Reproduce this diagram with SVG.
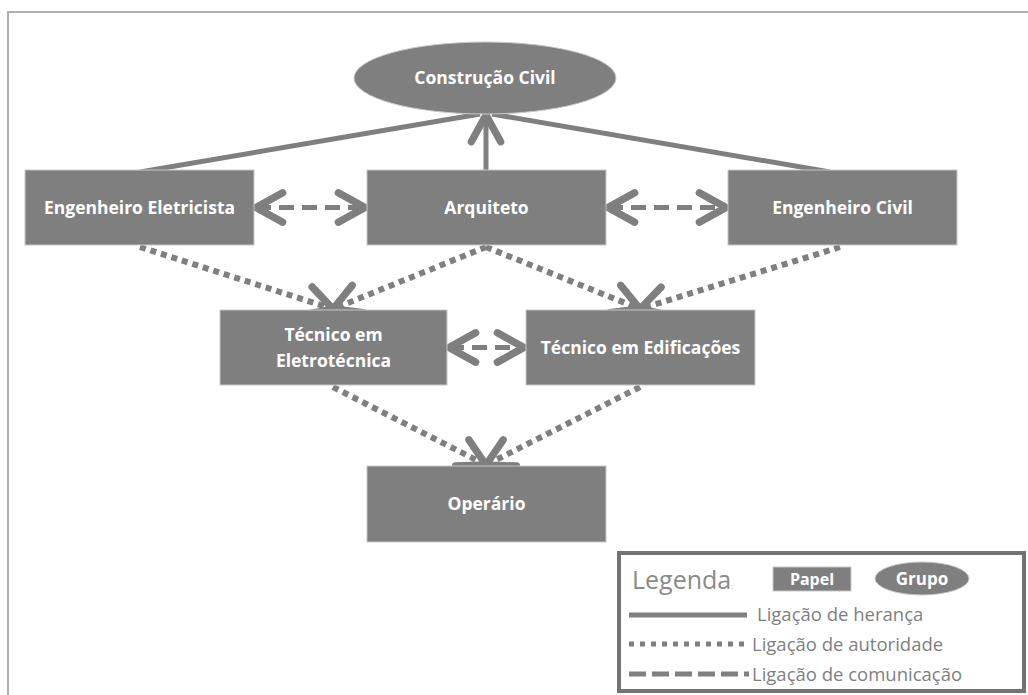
<svg xmlns="http://www.w3.org/2000/svg" width="1028" height="695" viewBox="0 0 1028 695">
  <style>
    .node { fill: #7f7f7f; stroke: #c8c8c8; stroke-width: 1; }
    .label { font-family: "Open Sans", "Liberation Sans", sans-serif; font-weight: bold; font-size: 17.5px; fill: #ffffff; text-anchor: middle; }
    .conn { stroke: #7f7f7f; stroke-width: 5; fill: none; }
    .dotted { stroke-dasharray: 6 5; stroke-width: 6; }
    .dashed { stroke-dasharray: 15 8; }
    .legtext { font-family: "Open Sans", "Liberation Sans", sans-serif; font-size: 18.5px; fill: #7f7f7f; }
  </style>
  <defs>
    <marker id="chev" markerUnits="userSpaceOnUse" markerWidth="40" markerHeight="40" refX="0" refY="0" orient="auto-start-reverse" overflow="visible" viewBox="-25 -15 30 30">
      <path d="M-20,-11 L0,0 L-20,11" fill="none" stroke="#7f7f7f" stroke-width="5.5" stroke-linecap="round" stroke-linejoin="round"/>
    </marker>
  </defs>
  <rect x="0" y="0" width="1028" height="695" fill="#ffffff"/>
  <polyline points="1028,12 8,12 8,695" fill="none" stroke="#b0b0b0" stroke-width="2"/>

  <g id="connectors">
    <line class="conn" x1="140" y1="172" x2="480" y2="114"/>
    <line class="conn" x1="830" y1="172" x2="492" y2="114"/>
    <line class="conn" x1="486" y1="172" x2="486" y2="115" marker-end="url(#chev)"/>
    <line class="conn dashed" x1="256" y1="207.5" x2="365" y2="207.5" marker-start="url(#chev)" marker-end="url(#chev)"/>
    <line class="conn dashed" x1="608" y1="207.5" x2="726" y2="207.5" marker-start="url(#chev)" marker-end="url(#chev)"/>
    <line class="conn dashed" x1="449" y1="347.5" x2="524" y2="347.5" marker-start="url(#chev)" marker-end="url(#chev)"/>
    <line class="conn dotted" x1="140" y1="247" x2="333" y2="309" marker-end="url(#chev)"/>
    <line class="conn dotted" x1="486" y1="247" x2="333" y2="309" marker-end="url(#chev)"/>
    <line class="conn dotted" x1="486" y1="247" x2="640" y2="309" marker-end="url(#chev)"/>
    <line class="conn dotted" x1="840" y1="247" x2="640" y2="309" marker-end="url(#chev)"/>
    <line class="conn dotted" x1="333" y1="387" x2="486" y2="465" marker-end="url(#chev)"/>
    <line class="conn dotted" x1="640" y1="387" x2="486" y2="465" marker-end="url(#chev)"/>
  </g>

  <g id="construcao-civil">
    <ellipse class="node" cx="485" cy="78" rx="131" ry="36"/>
    <text class="label" x="485" y="84">Construção Civil</text>
  </g>
  <g id="engenheiro-eletricista">
    <rect class="node" x="25" y="170" width="229" height="75"/>
    <text class="label" x="139.5" y="214">Engenheiro Eletricista</text>
  </g>
  <g id="arquiteto">
    <rect class="node" x="367" y="170" width="239" height="75"/>
    <text class="label" x="486.5" y="214">Arquiteto</text>
  </g>
  <g id="engenheiro-civil">
    <rect class="node" x="728" y="170" width="229" height="75"/>
    <text class="label" x="842.5" y="214">Engenheiro Civil</text>
  </g>
  <g id="tecnico-eletrotecnica">
    <rect class="node" x="220" y="310" width="227" height="75"/>
    <text class="label" x="333.5" y="341">Técnico em</text>
    <text class="label" x="333.5" y="367">Eletrotécnica</text>
  </g>
  <g id="tecnico-edificacoes">
    <rect class="node" x="526" y="310" width="229" height="75"/>
    <text class="label" x="640.5" y="354">Técnico em Edificações</text>
  </g>
  <g id="operario">
    <rect class="node" x="367" y="466" width="239" height="76"/>
    <text class="label" x="486.5" y="510">Operário</text>
  </g>

  <g id="legenda">
    <rect x="619" y="553" width="405" height="138" fill="#ffffff" stroke="#737373" stroke-width="4"/>
    <text x="632" y="589" font-family="'Open Sans', 'Liberation Sans', sans-serif" font-size="25" fill="#8a8a8a">Legenda<tspan font-size="7" fill="#e0a0a8">:</tspan></text>
    <rect class="node" x="773" y="567" width="78" height="24"/>
    <text class="label" x="812" y="585" style="font-size:16px">Papel</text>
    <ellipse class="node" cx="922" cy="578.5" rx="47" ry="16.5"/>
    <text class="label" x="922" y="585" style="font-size:17px">Grupo</text>
    <line class="conn" x1="629" y1="615" x2="747" y2="615"/>
    <text class="legtext" x="757" y="621">Ligação de herança</text>
    <line class="conn" x1="629" y1="644" x2="749" y2="644" stroke-dasharray="5 6"/>
    <text class="legtext" x="752" y="651">Ligação de autoridade</text>
    <line class="conn" x1="629" y1="674" x2="749" y2="674" stroke-dasharray="17 6"/>
    <text class="legtext" x="752" y="681">Ligação de comunicação</text>
  </g>
</svg>
